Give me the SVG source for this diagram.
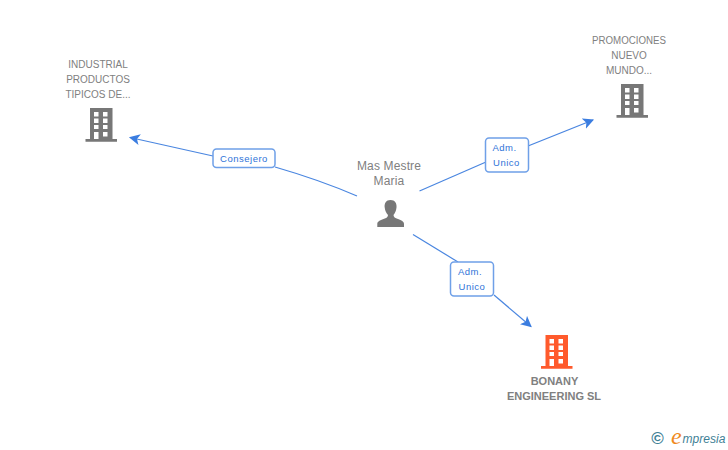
<svg xmlns="http://www.w3.org/2000/svg" xmlns:xlink="http://www.w3.org/1999/xlink" width="728" height="450" viewBox="0 0 728 450">
<style>
.lbl{font-family:"Liberation Sans",Arial,sans-serif;font-size:10px;fill:#808080;text-anchor:middle}
.per{font-size:12px;letter-spacing:.15px}
.main{font-size:11px;font-weight:bold;fill:#808080}
.edge{fill:none;stroke:#4a86e0;stroke-width:1.2}
.box{fill:#fff;stroke:#6fa0e8;stroke-width:1.5}
.etx{font-family:"Liberation Sans",Arial,sans-serif;font-size:9.5px;letter-spacing:.5px;fill:#2f73d8;text-anchor:middle}
.win{fill:#fff}
</style>
<defs>
<marker id="arrow" viewBox="0 0 10 10" refX="9" refY="5" markerWidth="11" markerHeight="11" markerUnits="userSpaceOnUse" orient="auto">
<path d="M0 0L10 5L0 10L2.500 5Z" fill="#3b7de0"/>
</marker>
<g id="bld">
<path d="M4.500 0H27V31H31.500V33.700H0V31H4.500Z"/>
<path class="win" d="M8.500 4H13V8.500H8.500ZM17.500 4H22V8.500H17.500ZM8.500 10.500H13V15H8.500ZM17.500 10.500H22V15H17.500ZM8.500 17H13V21H8.500ZM17.500 17H22V21H17.500ZM8.500 24H13V31H8.500ZM17.500 24H22V28.500H17.500Z"/>
</g>
</defs>
<rect width="728" height="450" fill="#fff"/>
<g id="connectors">
<path class="edge" d="M357 196Q320 180 275 167"/>
<path class="edge" d="M213 156L130 137.500" marker-end="url(#arrow)"/>
<path class="edge" d="M419.500 191L486 162"/>
<path class="edge" d="M528 146L593 120" marker-end="url(#arrow)"/>
<path class="edge" d="M413 234.500L458 262"/>
<path class="edge" d="M494 295L531 326.500" marker-end="url(#arrow)"/>
</g>
<g id="edge-consejero">
<rect class="box" x="213" y="149" width="62" height="18.500" rx="3.500"/>
<text class="etx" x="244" y="162">Consejero</text>
</g>
<g id="edge-adm-1">
<rect class="box" x="485.500" y="138" width="43" height="34" rx="3.500"/>
<text class="etx" x="504.500" y="151">Adm.</text>
<text class="etx" x="506.500" y="166">Unico</text>
</g>
<g id="edge-adm-2">
<rect class="box" x="450.500" y="262" width="43" height="34" rx="3.500"/>
<text class="etx" x="470" y="275">Adm.</text>
<text class="etx" x="472" y="290">Unico</text>
</g>
<g id="node-industrial">
<text class="lbl" x="98" y="68">INDUSTRIAL</text>
<text class="lbl" x="98" y="83">PRODUCTOS</text>
<text class="lbl" x="98" y="98">TIPICOS DE...</text>
<use xlink:href="#bld" href="#bld" x="85.500" y="108" fill="#777"/>
</g>
<g id="node-promociones">
<text class="lbl" x="629" y="44" textLength="74" lengthAdjust="spacingAndGlyphs">PROMOCIONES</text>
<text class="lbl" x="629" y="59">NUEVO</text>
<text class="lbl" x="629" y="74">MUNDO...</text>
<use xlink:href="#bld" href="#bld" x="616.500" y="84" fill="#777"/>
</g>
<g id="node-person">
<text class="lbl per" x="389" y="170">Mas Mestre</text>
<text class="lbl per" x="389" y="185">Maria</text>
<path fill="#777" d="M390.500 200C395 200 397 203.500 396.500 207.500C396.200 210.500 395 213 393.500 215C393.500 217 395 218 398 219C401.500 220.200 404 221.500 404 224V227H377.300V224C377.300 221.500 380 220.200 383.500 219C386.500 218 388 217 388 215C386.300 213 385 210.500 384.700 207.500C384.200 203.500 386 200 390.500 200Z"/>
</g>
<g id="node-bonany">
<use xlink:href="#bld" href="#bld" x="541" y="335" fill="#ff5a2c"/>
<text class="lbl main" x="554.500" y="385">BONANY</text>
<text class="lbl main" x="554" y="400">ENGINEERING SL</text>
</g>
<g id="logo">
<text x="657.500" y="444" font-family="Liberation Sans,sans-serif" font-size="17" font-weight="bold" fill="#3f7f96" text-anchor="middle">©</text>
<text x="671" y="444" font-family="Liberation Serif,serif" font-size="24" font-style="italic" fill="#f08a1d">e</text>
<text x="682.500" y="443" font-family="Liberation Sans,sans-serif" font-size="12" font-style="italic" fill="#3f7f96" textLength="43">mpresia</text>
</g>
</svg>
